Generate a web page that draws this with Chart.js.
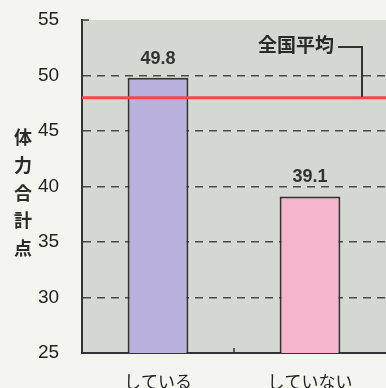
<!DOCTYPE html>
<html>
<head>
<meta charset="utf-8">
<script src="https://cdn.jsdelivr.net/npm/chart.js@4"></script>
<style>
  html, body { margin: 0; padding: 0; background: #f5f5f0; }
  #wrap { width: 386px; height: 388px; }
</style>
</head>
<body>
<div id="wrap"><canvas id="chart" width="386" height="388"></canvas></div>
<script>
// データ
const categories = ["している", "していない"];
const scores = [49.8, 39.1];
const nationalAvg = 48;
const yTicks = [25, 30, 35, 40, 45, 50, 55];
const yTitle = ["体", "力", "合", "計", "点"];
const avgLabel = "全国平均";

const barColors = ["#bab2dd", "#f4b5cd"];
const font = '"Liberation Sans", "Noto Sans CJK JP", sans-serif';

// 背景・平均線・ラベル
const extras = {
  id: 'extras',
  beforeDraw(chart) {
    const {ctx, chartArea: a} = chart;
    ctx.save();
    ctx.fillStyle = "#d5d7d2";
    ctx.fillRect(a.left, a.top, a.right - a.left, a.bottom - a.top);
    ctx.restore();
  },
  afterDatasetsDraw(chart) {
    const {ctx, chartArea: a, scales: {x, y}} = chart;
    ctx.save();
    // 全国平均ライン
    const yAvg = y.getPixelForValue(nationalAvg);
    ctx.strokeStyle = "#ee4a4a";
    ctx.lineWidth = 3;
    ctx.beginPath();
    ctx.moveTo(a.left, yAvg);
    ctx.lineTo(a.right, yAvg);
    ctx.stroke();

    // 全国平均ラベルと引き出し線
    ctx.fillStyle = "#2a2a2a";
    ctx.font = "bold 19px " + font;
    ctx.textAlign = "right";
    ctx.textBaseline = "middle";
    ctx.fillText(avgLabel, 334, 47);
    ctx.strokeStyle = "#333";
    ctx.lineWidth = 2;
    ctx.beginPath();
    ctx.moveTo(338, 47);
    ctx.lineTo(362, 47);
    ctx.lineTo(362, yAvg - 1);
    ctx.stroke();

    // 値ラベル
    ctx.font = "bold 18px " + font;
    ctx.fillStyle = "#333";
    ctx.textAlign = "center";
    ctx.textBaseline = "bottom";
    chart.getDatasetMeta(0).data.forEach((bar, i) => {
      ctx.fillText(scores[i].toFixed(1), bar.x, bar.y - 10);
    });

    // 軸タイトル（縦書き）
    ctx.font = "bold 18px " + font;
    ctx.fillStyle = "#2a2a2a";
    ctx.textBaseline = "middle";
    yTitle.forEach((ch, i) => {
      ctx.fillText(ch, 23, 139 + i * 27.8);
    });

    // 小さな目盛り
    ctx.strokeStyle = "#333";
    ctx.lineWidth = 1.5;
    ctx.beginPath();
    const mid = (x.getPixelForValue(0) + x.getPixelForValue(1)) / 2;
    ctx.moveTo(mid, a.bottom);
    ctx.lineTo(mid, a.bottom - 5);
    ctx.moveTo(a.left, a.top);
    ctx.lineTo(a.left + 7, a.top);
    ctx.stroke();
    ctx.restore();
  }
};

new Chart(document.getElementById('chart'), {
  type: 'bar',
  data: {
    labels: categories,
    datasets: [{
      data: scores,
      backgroundColor: barColors,
      borderColor: "#333",
      borderWidth: 2,
      borderSkipped: false,
      categoryPercentage: 0.8,
      barPercentage: 0.5
    }]
  },
  options: {
    responsive: false,
    animation: false,
    layout: { padding: { top: 20, right: 0, left: 38, bottom: 0 } },
    plugins: { legend: { display: false }, tooltip: { enabled: false } },
    scales: {
      x: {
        grid: { display: false },
        border: { display: true, color: "#333", width: 2 },
        ticks: { color: "#222", font: { size: 17, family: font }, padding: 12 },
        afterFit(s) { s.height = 35; }
      },
      y: {
        min: 25,
        max: 55,
        afterBuildTicks(s) { s.ticks = yTicks.map(v => ({ value: v })); },
        grid: {
          drawTicks: false,
          color: ctx => (ctx.tick && ctx.tick.value > 25 && ctx.tick.value < 55) ? "#4a4a4a" : "rgba(0,0,0,0)",
          lineWidth: 1.5
        },
        border: { display: true, color: "#333", width: 2, dash: [8, 6] },
        ticks: { color: "#222", font: { size: 19, family: font }, padding: 0, crossAlign: 'far' },
        afterFit(s) { s.width = 44; }
      }
    }
  },
  plugins: [extras]
});
</script>
</body>
</html>
